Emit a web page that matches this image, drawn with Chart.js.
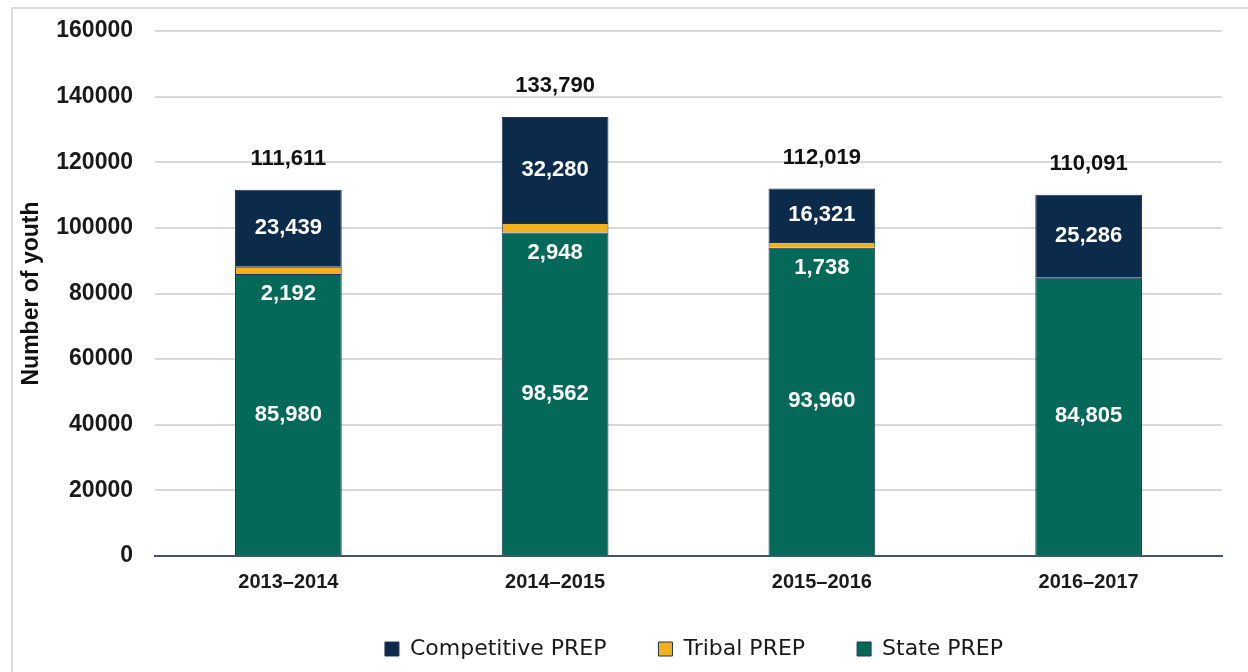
<!DOCTYPE html>
<html>
<head>
<meta charset="utf-8">
<script src="https://cdn.jsdelivr.net/npm/chart.js@4"></script>
<style>
  body { margin: 0; background: #fff; }
  #wrap { position: relative; width: 1248px; height: 672px; }
  #frame { position: absolute; left: 11px; top: 7px; width: 1250px; height: 700px;
           border-left: 2px solid #dcdcdc; border-top: 2px solid #dcdcdc; }
  canvas { position: absolute; left: 0; top: 0; }
</style>
</head>
<body>
<div id="wrap">
  <div id="frame"></div>
  <canvas id="prepChart" width="1248" height="672"></canvas>
</div>
<script>
// Youth served by PREP programs, per year

const years = ["2013\u20132014", "2014\u20132015", "2015\u20132016", "2016\u20132017"];
const state_prep = [85980, 98562, 93960, 84805];
const tribal_prep = [2192, 2948, 1738, 0];
const competitive_prep = [23439, 32280, 16321, 25286];
const y_ticks = [0, 20000, 40000, 60000, 80000, 100000, 120000, 140000, 160000];

const FONT = "'Liberation Sans', Arial, sans-serif";
const fmt = (v) => v.toLocaleString('en-US');

// Draw the value labels on the segments and the totals above the bars
const valueLabels = {
    id: 'valueLabels',
    afterLayout(chart) {
        // legend sits a bit right of center and closer to the axis in the original
        chart.legend.left += 166;
        chart.legend.top -= 12;
    },
    afterDatasetsDraw(chart) {
        const ctx = chart.ctx;
        ctx.save();
        ctx.textAlign = 'center';
        ctx.textBaseline = 'middle';
        ctx.font = 'bold 22px ' + FONT;
        years.forEach((y, i) => {
            const st = chart.getDatasetMeta(0).data[i];
            const tr = chart.getDatasetMeta(1).data[i];
            const co = chart.getDatasetMeta(2).data[i];

            ctx.fillStyle = '#ffffff';
            ctx.fillText(fmt(state_prep[i]), st.x, (st.y + st.base) / 2);
            if (tribal_prep[i] > 0) {
                ctx.fillText(fmt(tribal_prep[i]), tr.x, tr.base + 20);
            }
            ctx.fillText(fmt(competitive_prep[i]), co.x, (co.y + co.base) / 2);

            // total
            const total = state_prep[i] + tribal_prep[i] + competitive_prep[i];
            ctx.fillStyle = '#111111';
            ctx.fillText(fmt(total), co.x, co.y - 31);
        });
        ctx.restore();
    }
};

const cvs = document.getElementById('prepChart');

new Chart(cvs, {
    type: 'bar',
    data: {
        labels: years,
        datasets: [
            {
                label: 'State PREP',
                data: state_prep,
                backgroundColor: '#05695a',
                borderColor: '#1c3554',
                borderWidth: 1
            },
            {
                label: 'Tribal PREP',
                data: tribal_prep,
                backgroundColor: '#f2b11c',
                borderColor: '#1c3554',
                borderWidth: 1
            },
            {
                label: 'Competitive PREP',
                data: competitive_prep,
                backgroundColor: '#0c2a4a',
                borderColor: '#1c3554',
                borderWidth: 1
            }
        ]
    },
    options: {
        responsive: false,
        animation: false,
        datasets: {
            bar: { categoryPercentage: 1.0, barPercentage: 0.4 }
        },
        layout: {
            padding: { top: 31, right: 26, left: 0, bottom: -10 }
        },
        plugins: {
            tooltip: { enabled: false },
            legend: {
                position: 'bottom',
                reverse: true,
                labels: {
                    font: { family: "'DejaVu Sans', sans-serif", size: 22 },
                    color: '#1a1a1a',
                    boxWidth: 14,
                    boxHeight: 14,
                    padding: 52
                }
            }
        },
        scales: {
            x: {
                stacked: true,
                afterFit: (scale) => { scale.height = 42; },
                grid: { display: false, drawTicks: false },
                border: { display: true, color: '#44546a', width: 2 },
                ticks: {
                    font: { family: FONT, size: 20, weight: 'bold' },
                    color: '#1a1a1a',
                    padding: 14
                }
            },
            y: {
                stacked: true,
                min: 0,
                max: 160000,
                afterBuildTicks: (scale) => {
                    scale.ticks = y_ticks.map(v => ({ value: v }));
                },
                afterFit: (scale) => {
                    scale.width = 155;
                    scale.paddingTop = 0;
                    scale.paddingBottom = 0;
                },
                grid: { color: '#d9d9d9', lineWidth: 2, drawTicks: false },
                border: { display: false },
                ticks: {
                    font: { family: FONT, size: 23, weight: 'bold' },
                    color: '#1a1a1a',
                    padding: 22,
                    callback: (v) => String(v)
                },
                title: {
                    display: true,
                    text: 'Number of youth',
                    font: { family: FONT, size: 23, weight: 'bold' },
                    color: '#111111',
                    padding: { top: 18, bottom: 0 }
                }
            }
        }
    },
    plugins: [valueLabels]
});
</script>
</body>
</html>
